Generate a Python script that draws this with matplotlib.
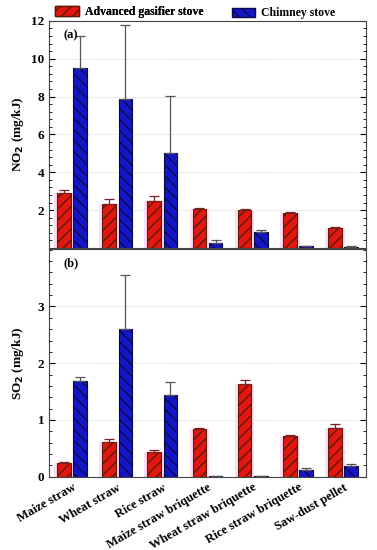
import matplotlib
matplotlib.use("Agg")
import matplotlib.pyplot as plt
import numpy as np
from matplotlib.ticker import MultipleLocator
from matplotlib.patches import Patch

categories = ["Maize straw", "Wheat straw", "Rice straw", "Maize straw briquette",
              "Wheat straw briquette", "Rice straw briquette", "Saw-dust pellet"]
series = ["Advanced gasifier stove", "Chimney stove"]

no2_gas = [2.90, 2.34, 2.47, 2.06, 1.99, 1.85, 1.07]
no2_gas_err = [0.15, 0.25, 0.28, 0.03, 0.05, 0.03, 0.05]
no2_chim = [9.49, 7.88, 5.00, 0.28, 0.84, 0.10, 0.08]
no2_chim_err = [1.73, 3.92, 3.04, 0.17, 0.13, 0.02, 0.02]

so2_gas = [0.24, 0.61, 0.43, 0.845, 1.64, 0.72, 0.86]
so2_gas_err = [0.02, 0.05, 0.045, 0.01, 0.07, 0.01, 0.06]
so2_chim = [1.68, 2.60, 1.44, 0.02, 0.02, 0.12, 0.18]
so2_chim_err = [0.07, 0.96, 0.22, 0.0, 0.0, 0.04, 0.04]

plt.rcParams['font.family'] = ['Liberation Serif', 'DejaVu Serif']
RED = '#e3170f'
BLUE = '#1515c8'
x = np.arange(len(categories))
w = 0.30
off = 0.18

fig = plt.figure(figsize=(3.77, 5.5), dpi=100)
ax1 = fig.add_axes([0.131, 0.549, 0.839, 0.413])
ax2 = fig.add_axes([0.131, 0.1333, 0.839, 0.4137])

plt.rcParams['hatch.linewidth'] = 1.0

def draw(ax, g, ge, c, ce):
    ax.bar(x - off, g, w * 1.45, color='#ffdcf3', edgecolor='none', zorder=1)
    plt.rcParams['hatch.color'] = '#6b2a0a'
    ax.bar(x - off, g, w, color=RED, edgecolor='#5a1a08', hatch='///', linewidth=0.8, zorder=2)
    plt.rcParams['hatch.color'] = '#0a0a4a'
    ax.bar(x + off, c, w, color=BLUE, edgecolor='#0a0a4a', hatch='\\\\\\', linewidth=0.8, zorder=2)
    ax.errorbar(x - off, g, yerr=[np.zeros(len(g)), ge], fmt='none', ecolor='#7a2020',
                elinewidth=0.9, capsize=3.5, capthick=0.9, zorder=3)
    ax.errorbar(x + off, c, yerr=[np.zeros(len(c)), ce], fmt='none', ecolor='#555555',
                elinewidth=0.9, capsize=3.5, capthick=0.9, zorder=3)
    ax.set_xlim(-0.5, 6.5)
    ax.grid(axis='y', linestyle=':', color='#cccccc', linewidth=0.7, zorder=0)
    ax.set_axisbelow(True)
    ax.tick_params(axis='y', which='both', direction='in', left=True, right=True, labelsize=9.5)
    ax.tick_params(axis='y', which='major', length=4)
    ax.tick_params(axis='y', which='minor', length=2)
    ax.tick_params(axis='x', length=0)
    for s in ax.spines.values():
        s.set_color('#444444')

draw(ax1, no2_gas, no2_gas_err, no2_chim, no2_chim_err)
ax1.set_ylim(0, 12)
ax1.set_yticks([2, 4, 6, 8, 10, 12])
ax1.yaxis.set_minor_locator(MultipleLocator(0.4))
ax1.set_xticks([])
ax1.set_ylabel('NO$_\\mathbf{2}$ (mg/kJ)', fontweight='bold', fontsize=9.5)
ax1.text(0.044, 0.925, '(a)', transform=ax1.transAxes, fontweight='bold', fontsize=9)
for lab in ax1.get_yticklabels():
    lab.set_fontweight('bold')

draw(ax2, so2_gas, so2_gas_err, so2_chim, so2_chim_err)
ax2.set_ylim(0, 4.01)
ax2.set_yticks([0, 1, 2, 3])
ax2.yaxis.set_minor_locator(MultipleLocator(0.2))
ax2.set_xticks(x)
ax2.set_xticklabels(categories, rotation=30, ha='right', rotation_mode='anchor',
                    fontweight='bold', fontsize=9)
ax2.set_ylabel('SO$_\\mathbf{2}$ (mg/kJ)', fontweight='bold', fontsize=9.5)
ax2.text(0.044, 0.925, '(b)', transform=ax2.transAxes, fontweight='bold', fontsize=9)
for lab in ax2.get_yticklabels():
    lab.set_fontweight('bold')

for ax in (ax1, ax2):
    ax.yaxis.set_label_coords(-0.075, 0.5)

plt.rcParams['hatch.color'] = '#6b2a0a'
h1 = Patch(facecolor=RED, edgecolor='#5a1a08', hatch='///', label=series[0])
leg1 = fig.legend(handles=[h1], loc='center left', bbox_to_anchor=(0.147, 0.978),
                  frameon=False, prop={'weight': 'bold', 'size': 8.5}, handlelength=2.0,
                  handleheight=0.8, handletextpad=0.5, borderaxespad=0, borderpad=0)
fig.add_artist(leg1)
plt.rcParams['hatch.color'] = '#0a0a4a'
h2 = Patch(facecolor=BLUE, edgecolor='#0a0a4a', hatch='\\\\\\', label=series[1])
fig.legend(handles=[h2], loc='center left', bbox_to_anchor=(0.615, 0.976),
           frameon=False, prop={'weight': 'bold', 'size': 8.5}, handlelength=2.0,
           handleheight=0.8, handletextpad=0.5, borderaxespad=0, borderpad=0)

fig.savefig('out.png', dpi=100)
